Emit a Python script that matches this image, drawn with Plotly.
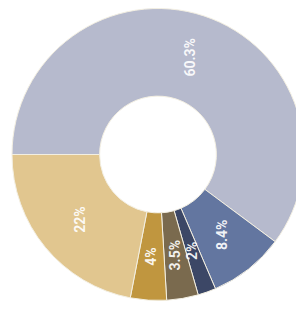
import numpy as np
import plotly.graph_objects as go

labels = ["A", "B", "C", "D", "E", "F"]
values = [60.3, 8.4, 2, 3.5, 4, 22]
text_labels = ["60.3%", "8.4%", "2%", "3.5%", "4%", "22%"]
colors = ["#b6bacd", "#6376a0", "#3c4766", "#7a6a4e", "#c0963f", "#e1c68f"]

W, H = 304, 309
# page body has an 8px margin; the domain accounts for it
dom_x = [4 / W, 296 / W]
dom_y = [1 - 292.5 / H, 1 - 0.5 / H]
hole = 0.40

fig = go.Figure()
fig.add_trace(go.Pie(
    labels=labels, values=values, sort=False,
    direction="clockwise", rotation=-90, hole=hole,
    marker=dict(colors=colors, line=dict(color="#f3efe2", width=1)),
    textinfo="none", hoverinfo="skip", showlegend=False,
    domain=dict(x=dom_x, y=dom_y),
))

# label positions derived from the data (mid angle of each slice)
cx_px = (dom_x[0] + dom_x[1]) / 2 * W
cy_px = (1 - (dom_y[0] + dom_y[1]) / 2) * H
R = min((dom_x[1] - dom_x[0]) * W, (dom_y[1] - dom_y[0]) * H) / 2
r_lab = R * (1 + hole) / 2
total = sum(values)
cum = 0.0
for v, t in zip(values, text_labels):
    mid = cum + v / 2
    cum += v
    ang = np.pi - mid / total * 2 * np.pi  # clockwise from 9 o'clock
    px = cx_px + r_lab * np.cos(ang)
    py = cy_px - r_lab * np.sin(ang)
    fig.add_annotation(
        x=px / W, y=1 - py / H, xref="paper", yref="paper",
        xanchor="center", yanchor="middle",
        text="<b>" + t + "</b>", showarrow=False, textangle=-90,
        font=dict(family="Liberation Sans Narrow, Roboto, sans-serif", size=14,
                  color="rgba(255,255,255,0.92)"),
    )

fig.update_layout(
    width=W, height=H,
    margin=dict(l=0, r=0, t=0, b=0),
    paper_bgcolor="white", plot_bgcolor="white",
)
fig.write_html("out.html")
